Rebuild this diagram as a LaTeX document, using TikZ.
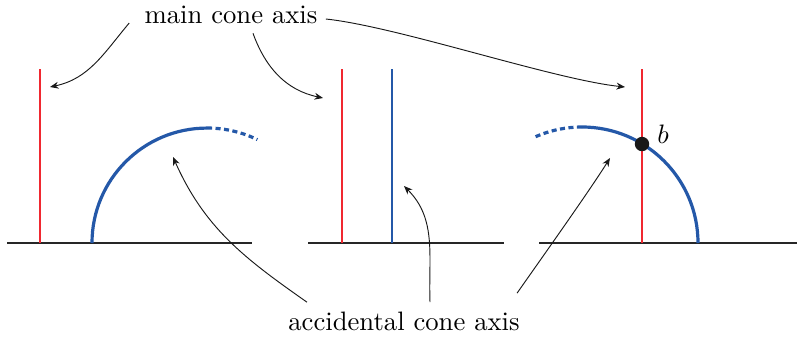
\documentclass[tikz,border=0pt]{standalone}
\usepackage{latexsym,amssymb}
\usepackage{tikz}
\usetikzlibrary{calc,arrows.meta}

\definecolor{axisred}{RGB}{240,40,48}
\definecolor{coneblue}{RGB}{36,88,168}
\tikzset{
  ground/.style={line width=1.05pt,black!85},
  mainaxis/.style={line width=1.1pt,axisred},
  cone/.style={line width=1.2pt,coneblue},
  conedots/.style={cone,dash pattern=on 1.9pt off 1.3pt},
  pointer/.style={-{Stealth[length=3.2pt,width=2.6pt]},line width=0.35pt,black!90}
}

\begin{document}
\begin{tikzpicture}[x=0.375pt,y=0.375pt]
      \useasboundingbox (0,0) rectangle (797,338);

      % left panel
      \draw[ground] (7,95) -- (252,95);
      \draw[mainaxis] (40,95) -- (40,269);
      \draw[cone] (92,95) arc[start angle=180,end angle=90,radius=43.1pt];
      \draw[conedots] (207,210) arc[start angle=90,end angle=64,radius=43.1pt];

      % middle panel
      \draw[ground] (308,95) -- (504,95);
      \draw[mainaxis] (342,95) -- (342,269);
      \draw[cone,line width=1.05pt] (392,95) -- (392,269);

      % right panel
      \draw[ground] (539,95) -- (797,95);
      \draw[mainaxis] (642,95) -- (642,269);
      \draw[cone] (698,95) arc[start angle=0,end angle=90,radius=43.5pt];
      \draw[conedots] (582,211) arc[start angle=90,end angle=114,radius=43.5pt];
      \node[circle,fill=black!90,inner sep=0pt,minimum size=5.4pt] (b) at (642,194) {};
      \node (blab) at ($(b)+(21,10)$) {$b$};

      \node (M) at (231,323) {main cone axis};
      \node (A) at (404,17) {accidental cone axis};

      \coordinate (m1) at (50,251);
      \coordinate (m2) at (323,240);
      \coordinate (m3) at (625,251);
      \coordinate (a1) at (173,181);
      \coordinate (a2) at (404,152);
      \coordinate (a3) at (610,180);

      \path[pointer] ($(M.west)+(-6,-8)$) edge[out=230,in=12] (m1)
      ($(M.south)+(22,0)$) edge[out=290,in=168] (m2)
      ($(M.east)+(-1,-4)$) edge[out=-6,in=174,looseness=0.6] (m3);
      \path[pointer] ($(A.north)+(-97,0)$) edge[out=145,in=-66] (a1)
      ($(A.north)+(26,0)$) edge[out=92,in=-45] (a2)
      ($(A.north east)+(-12,9)$) edge[out=55,in=-122,looseness=0.6] (a3);
    \end{tikzpicture}
\end{document}
